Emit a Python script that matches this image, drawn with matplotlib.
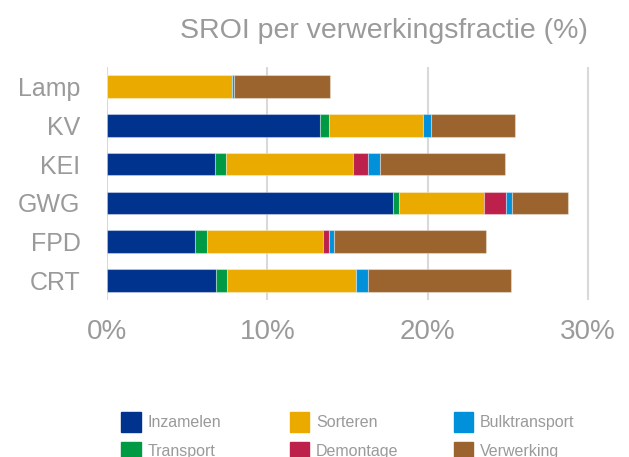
import matplotlib
matplotlib.use("Agg")
import matplotlib.pyplot as plt
from matplotlib.patches import Rectangle

plt.rcParams['font.family'] = ['Liberation Sans', 'DejaVu Sans']

categories = ["Lamp", "KV", "KEI", "GWG", "FPD", "CRT"]
series_names = ["Inzamelen", "Transport", "Sorteren", "Demontage", "Bulktransport", "Verwerking"]
inzamelen    = [0.0, 13.29, 6.74, 17.86, 5.51, 6.78]
transport    = [0.0, 0.58, 0.70, 0.38, 0.73, 0.73]
sorteren     = [7.80, 5.86, 7.89, 5.28, 7.21, 8.02]
demontage    = [0.0, 0.0, 0.98, 1.37, 0.42, 0.0]
bulktransport = [0.10, 0.46, 0.72, 0.40, 0.31, 0.78]
verwerking   = [6.00, 5.26, 7.80, 3.45, 9.49, 8.87]
xticks = [0, 10, 20, 30]
xtick_labels = ["0%", "10%", "20%", "30%"]

colors = {
    "Inzamelen": "#00338D",
    "Transport": "#009A44",
    "Sorteren": "#EAAA00",
    "Demontage": "#BC204B",
    "Bulktransport": "#0091DA",
    "Verwerking": "#9B642F",
}
data = {
    "Inzamelen": inzamelen,
    "Transport": transport,
    "Sorteren": sorteren,
    "Demontage": demontage,
    "Bulktransport": bulktransport,
    "Verwerking": verwerking,
}

W, H = 629, 457
fig = plt.figure(figsize=(W / 100, H / 100), dpi=100)
ax = fig.add_axes([107 / W, 1 - 300 / H, (30.3 * 16.03) / W, 233 / H])

grey = "#9a9a9a"
y = list(range(len(categories)))
left = [0.0] * len(categories)
for name in series_names:
    vals = data[name]
    ax.barh(y, vals, left=left, height=0.58, color=colors[name],
            edgecolor=(1, 1, 1, 0.35), linewidth=0.8, zorder=3)
    left = [l + v for l, v in zip(left, vals)]

ax.set_ylim(len(categories) - 0.5, -0.5)
ax.set_xlim(0, 30.3)
ax.set_yticks(y)
ax.set_yticklabels(categories, fontsize=18, color=grey)
ax.set_xticks(xticks)
ax.set_xticklabels(xtick_labels, fontsize=20, color=grey)
ax.tick_params(axis='both', length=0)
ax.tick_params(axis='y', pad=19)
ax.tick_params(axis='x', pad=14)
ax.grid(axis='x', color="#d9d9d9", linewidth=1.5, zorder=0)
for s in ax.spines.values():
    s.set_visible(False)

fig.text(384 / W, 1 - 38 / H, "SROI per verwerkingsfractie (%)", ha='center',
         va='baseline', fontsize=20.5, color=grey)

# legend laid out in 3 columns x 2 rows
col_sq = [121, 289.5, 453.5]
row_top = [412, 441.5]
sq = 19.5
for i, name in enumerate(series_names):
    c = i // 2
    r = i % 2
    x0 = col_sq[c]
    y0 = row_top[r]
    fig.patches.append(Rectangle((x0 / W, 1 - (y0 + sq) / H), sq / W, sq / H,
                                 transform=fig.transFigure, color=colors[name],
                                 figure=fig))
    fig.text((x0 + sq + 7) / W, 1 - (y0 + sq / 2 + 0.5) / H, name,
             ha='left', va='center', fontsize=11.5, color=grey)

fig.savefig("out.png", dpi=100)
